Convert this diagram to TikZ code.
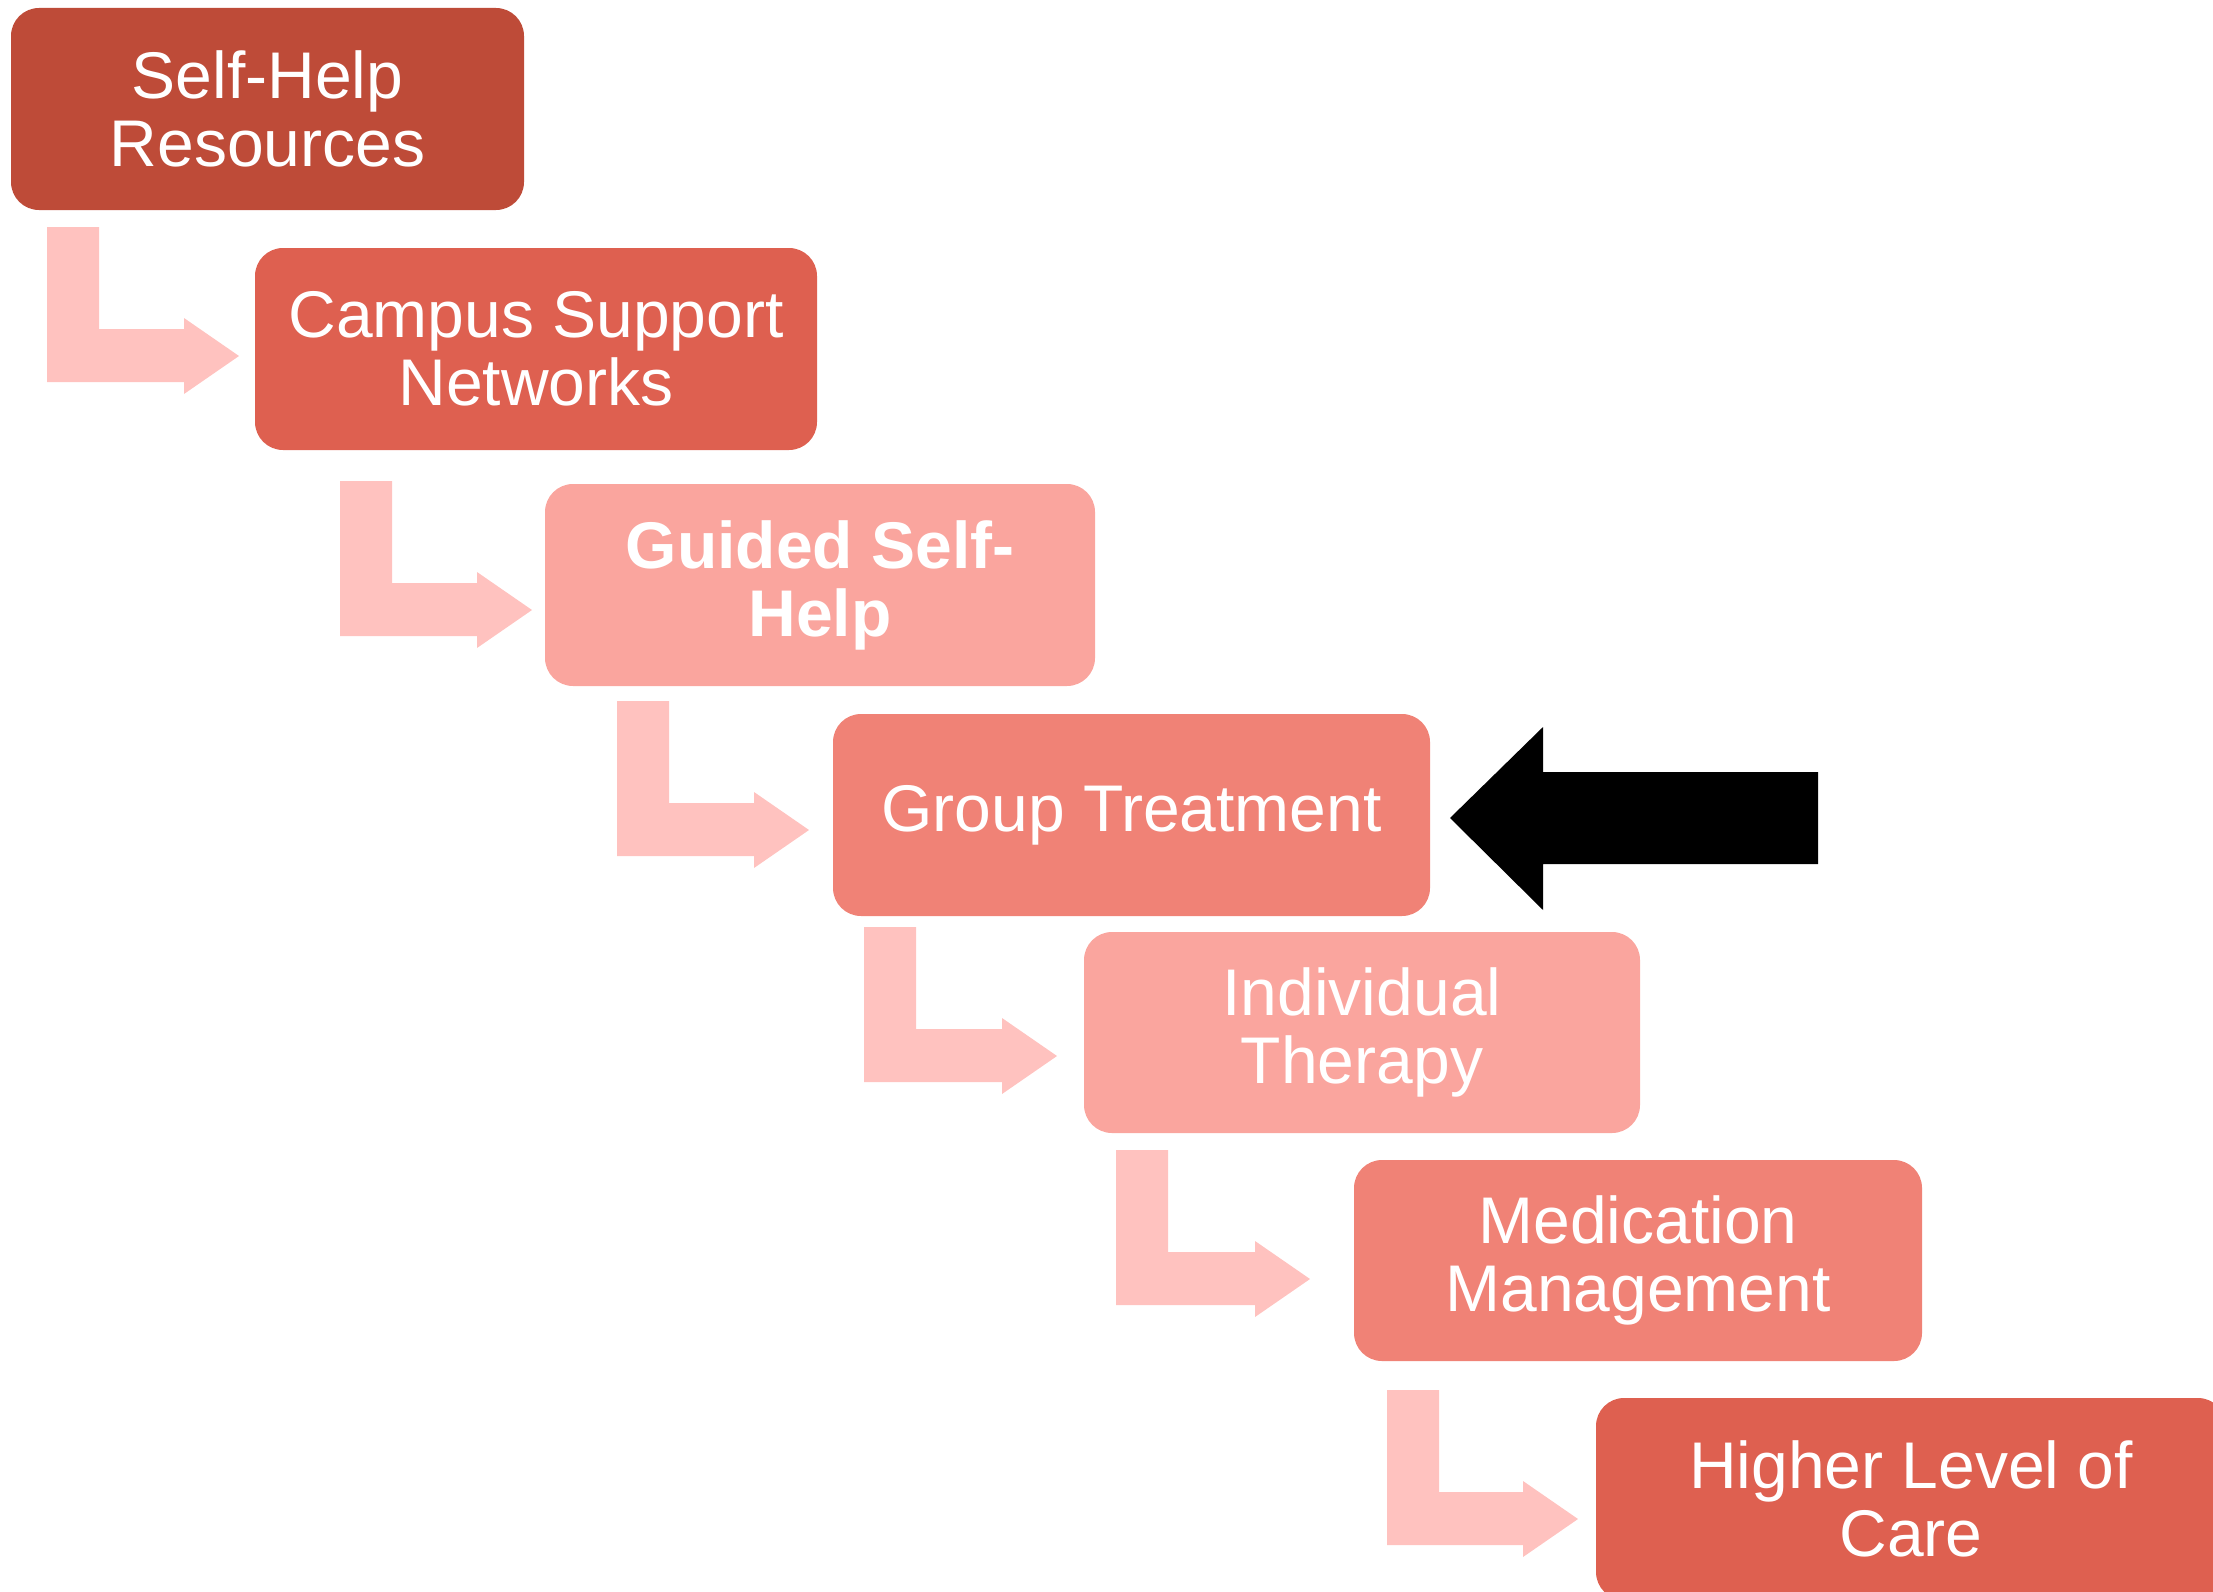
\documentclass[tikz,border=0pt]{standalone}
\usepackage{fontspec}
\setmainfont{Liberation Sans}
\definecolor{cA}{HTML}{BE4B38}
\definecolor{cB}{HTML}{DE6050}
\definecolor{cC}{HTML}{FAA59E}
\definecolor{cD}{HTML}{F08276}
\definecolor{cL}{HTML}{FFC2BF}
\tikzset{
  stepbox/.style={rectangle, rounded corners=28pt, inner sep=0pt, align=center,
    text=white, font=\fontsize{66}{68}\selectfont},
  larrow/.style={fill=cL, draw=none},
  blackarrow/.style={fill=black, draw=none}
}
\newcommand{\Larrow}[3]{%
  \fill[larrow] (#1,#2) -- (#1+52,#2) -- (#1+52,#2+102) -- (#3-55,#2+102) -- (#3-55,#2+91)
    -- (#3,#2+129) -- (#3-55,#2+167) -- (#3-55,#2+155) -- (#1,#2+155) -- cycle;}
\begin{document}
\begin{tikzpicture}[x=1pt,y=-1pt]
\useasboundingbox (0,0) rectangle (2213,1592);
\clip (0,0) rectangle (2213,1592);
\node[stepbox, fill=cA, minimum width=513pt, minimum height=202pt] (b1) at (267.5,109) {Self-Help\\Resources};
\node[stepbox, fill=cB, minimum width=562pt, minimum height=202pt] (b2) at (536,349) {Campus Support\\Networks};
\node[stepbox, fill=cC, minimum width=550pt, minimum height=202pt, font=\fontsize{66}{68}\selectfont\bfseries] (b3) at (820,585) {Guided Self-\\Help};
\node[stepbox, fill=cD, minimum width=597pt, minimum height=202pt] (b4) at (1131.5,815) {Group Treatment};
\node[stepbox, fill=cC, minimum width=556pt, minimum height=201pt] (b5) at (1362,1032.5) {Individual\\Therapy};
\node[stepbox, fill=cD, minimum width=568pt, minimum height=201pt] (b6) at (1638,1260.5) {Medication\\Management};
\node[stepbox, fill=cB, minimum width=630pt, minimum height=202pt] (b7) at (1911,1499) {Higher Level of\\Care};
\Larrow{47}{227}{239}
\Larrow{340}{481}{532}
\Larrow{617}{701}{809}
\Larrow{864}{927}{1057}
\Larrow{1116}{1150}{1310}
\Larrow{1387}{1390}{1578}
\fill[blackarrow] (1450,818) -- (1543,727) -- (1543,772) -- (1818,772) -- (1818,864) -- (1543,864) -- (1543,910) -- cycle;
\end{tikzpicture}
\end{document}
